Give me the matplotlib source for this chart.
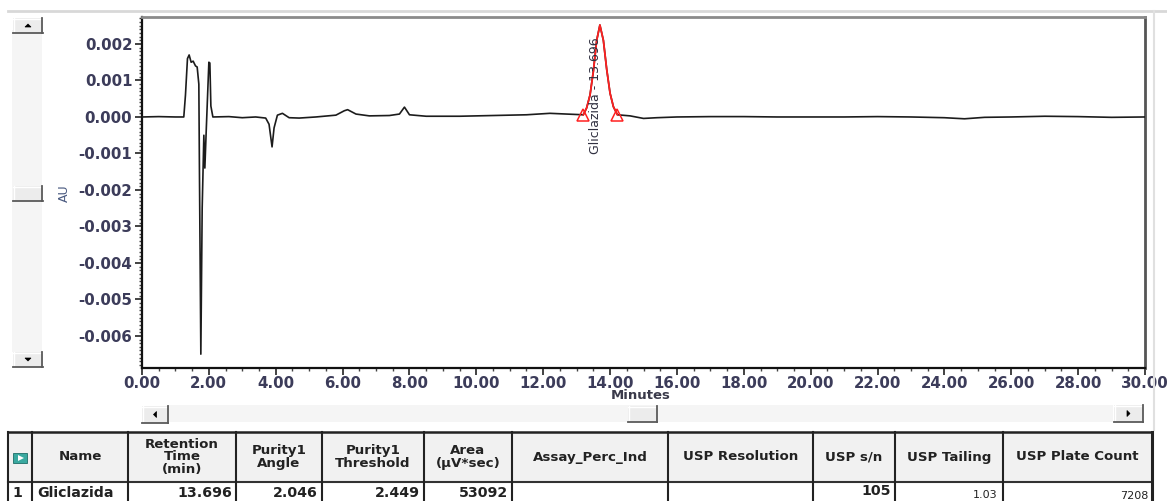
import matplotlib
matplotlib.use("Agg")
import matplotlib.pyplot as plt
from matplotlib.patches import Rectangle, Polygon
from matplotlib.lines import Line2D
from matplotlib.ticker import MultipleLocator, FuncFormatter

# ---- chromatogram trace (minutes, AU) ----
time_min = [0.00, 0.50, 1.00, 1.25, 1.30, 1.36, 1.41, 1.47, 1.53, 1.60, 1.65, 1.70,
            1.72, 1.76, 1.80, 1.85, 1.88, 1.92, 2.00, 2.03, 2.06, 2.12, 2.60, 3.00,
            3.40, 3.70, 3.80, 3.89, 3.95, 4.05, 4.20, 4.40, 4.70, 5.20, 5.80, 6.05,
            6.15, 6.40, 6.80, 7.40, 7.70, 7.85, 8.00, 8.50, 9.50, 10.50, 11.50, 12.20,
            12.70, 13.20, 13.30, 13.40, 13.50, 13.60, 13.696, 13.80, 13.90, 14.00, 14.10,
            14.22, 14.60, 15.00, 15.40, 16.00, 17.00, 18.00, 19.00, 20.00, 21.00, 22.00,
            23.00, 24.00, 24.60, 25.20, 26.00, 27.00, 28.00, 29.00, 30.00]
absorbance_au = [0.0, 0.00001, 0.0, 0.0, 0.0006, 0.0016, 0.0017, 0.0015, 0.00153, 0.0014,
                 0.00137, 0.0009, -0.0017, -0.0065, -0.0025, -0.0005, -0.0014, -0.0004,
                 0.0015, 0.00148, 0.0003, 0.0, 0.00001, -0.00002, 0.0, -0.00003, -0.0002,
                 -0.00082, -0.0003, 0.00005, 0.0001, -0.00002, -0.00003, 0.0, 0.00005, 0.00017,
                 0.0002, 0.00008, 0.00003, 0.00004, 0.00008, 0.00027, 0.00006, 0.00002, 0.00002,
                 0.00004, 0.00006, 0.0001, 0.00008, 0.00006, 0.00025, 0.0006, 0.00125, 0.0021,
                 0.00252, 0.0021, 0.0013, 0.00065, 0.00028, 0.00006, 0.00003, -0.00004, -0.00002,
                 0.0, 0.00001, 0.00001, 0.0, 0.0, 0.0, 0.00001, 0.0, -0.00002, -0.00005,
                 -0.00001, 0.0, 0.00002, 0.00001, -0.00001, 0.0]

peak_name = "Gliclazida"
retention_time = 13.696
peak_start = 13.20
peak_end = 14.22

x_ticks = [0, 2, 4, 6, 8, 10, 12, 14, 16, 18, 20, 22, 24, 26, 28, 30]
y_ticks = [0.002, 0.001, 0.0, -0.001, -0.002, -0.003, -0.004, -0.005, -0.006]

# ---- results table ----
col_headers = ["", "Name", "Retention\nTime\n(min)", "Purity1\nAngle", "Purity1\nThreshold",
               "Area\n(µV*sec)", "Assay_Perc_Ind", "USP Resolution", "USP s/n",
               "USP Tailing", "USP Plate Count"]
row_values = ["1", "Gliclazida", "13.696", "2.046", "2.449", "53092", "", "", "105",
              "1.03", "7208"]

W, H = 1167, 501
fig = plt.figure(figsize=(W / 100, H / 100), dpi=100)
fig.patch.set_facecolor("white")


def fx(x):
    return x / W


def fy(y):
    return 1 - y / H


def rect(x0, y0, x1, y1, **kw):
    fig.add_artist(Rectangle((fx(x0), fy(y1)), fx(x1) - fx(x0), fy(y0) - fy(y1),
                             transform=fig.transFigure, **kw))


def hline(x0, x1, y, **kw):
    fig.add_artist(Line2D([fx(x0), fx(x1)], [fy(y), fy(y)], transform=fig.transFigure, **kw))


def vline(x, y0, y1, **kw):
    fig.add_artist(Line2D([fx(x), fx(x)], [fy(y0), fy(y1)], transform=fig.transFigure, **kw))


def button(x0, y0, x1, y1, arrow=None):
    rect(x0, y0, x1, y1, facecolor="#ececec", edgecolor="none")
    hline(x0, x1, y0 + 0.5, color="white", lw=1)
    vline(x0 + 0.5, y0, y1, color="white", lw=1)
    hline(x0, x1, y1 - 0.5, color="#5a5a5a", lw=1.3)
    vline(x1 - 0.5, y0, y1, color="#5a5a5a", lw=1.3)
    if arrow:
        cx, cy = (x0 + x1) / 2, (y0 + y1) / 2
        s = 3
        if arrow == "up":
            pts = [(cx - s, cy + 1.5), (cx + s, cy + 1.5), (cx, cy - 1.5)]
        elif arrow == "down":
            pts = [(cx - s, cy - 1.5), (cx + s, cy - 1.5), (cx, cy + 1.5)]
        elif arrow == "left":
            pts = [(cx + 1.5, cy - s), (cx + 1.5, cy + s), (cx - 1.5, cy)]
        else:
            pts = [(cx - 1.5, cy - s), (cx - 1.5, cy + s), (cx + 1.5, cy)]
        fig.add_artist(Polygon([(fx(a), fy(b)) for a, b in pts], closed=True,
                               transform=fig.transFigure, facecolor="black",
                               edgecolor="black", lw=0.5))


# window frame
hline(8, W, 11, color="#d8d8d8", lw=2)
vline(1154, 11, 430, color="#e0e0e0", lw=1.5)

# vertical scroll bar
rect(12, 30, 42, 352, facecolor="#f5f5f5", edgecolor="none")
button(13, 18, 43, 33, "up")
button(13, 186, 43, 201)
button(13, 352, 43, 367, "down")

# horizontal scroll bar
rect(168, 405, 1113, 422, facecolor="#f5f5f5", edgecolor="none")
button(142, 406, 168, 423, "left")
button(628, 406, 657, 422)
button(1114, 405, 1143, 422, "right")

# ---- chromatogram axes ----
ax = fig.add_axes([fx(142), fy(368), fx(1145) - fx(142), fy(17) - fy(368)])
ax.set_xlim(0, 30)
ax.set_ylim(-0.00688, 0.00274)
ax.plot(time_min, absorbance_au, color="#1c1c1c", lw=1.2, zorder=3)

# integrated peak outline with start/end markers
seg_t = [t for t in time_min if peak_start <= t <= peak_end]
seg_a = [a for t, a in zip(time_min, absorbance_au) if peak_start <= t <= peak_end]
ax.plot(seg_t, seg_a, color="#ff2020", lw=1.3, zorder=4)
ax.plot([peak_start, peak_end], [seg_a[0], seg_a[-1]], linestyle="none", marker="^",
        markersize=8, markerfacecolor="none", markeredgecolor="#ff2020", mew=1.1, zorder=5)
ax.text(retention_time - 0.12, 0.00058, f"{peak_name} - {retention_time:.3f}", rotation=90,
        ha="center", va="center", fontsize=9, color="#303040", zorder=6)

tick_color = "#3c3c5a"
ax.set_xticks(x_ticks)
ax.set_yticks(y_ticks)
ax.xaxis.set_major_formatter(FuncFormatter(lambda v, p: f"{v:.2f}"))
ax.yaxis.set_major_formatter(
    FuncFormatter(lambda v, p: "0.000" if abs(v) < 1e-9 else f"{v:.3f}".replace("\u2212", "-")))
ax.xaxis.set_minor_locator(MultipleLocator(0.5))
ax.yaxis.set_minor_locator(MultipleLocator(0.0001))
ax.tick_params(axis="both", which="major", length=5, width=1.2, color="#222222",
               labelcolor=tick_color, labelsize=10.8)
ax.tick_params(axis="both", which="minor", length=2.5, width=1, color="#444444")
ax.tick_params(axis="y", pad=2)
ax.tick_params(axis="x", pad=1)
for lab in ax.get_xticklabels() + ax.get_yticklabels():
    lab.set_fontweight("bold")
ax.set_xlabel("Minutes", fontsize=9.5, fontweight="bold", color="#3a3a4a", labelpad=0)
ax.xaxis.set_label_coords(0.497, -0.06)

ax.spines["left"].set_color("#111111")
ax.spines["left"].set_linewidth(1.6)
ax.spines["bottom"].set_color("#111111")
ax.spines["bottom"].set_linewidth(1.6)
ax.spines["top"].set_color("#8a8a8a")
ax.spines["top"].set_linewidth(2.0)
ax.spines["right"].set_color("#555555")
ax.spines["right"].set_linewidth(2.0)

fig.text(fx(64), fy(193), "AU", rotation=90, ha="center", va="center",
         fontsize=9, color="#4a5a80")

# ---- results table ----
col_edges = [8, 32, 128, 236, 322, 424, 512, 668, 813, 895, 1003, 1152]
top, mid, bot = 432, 482, 503
rect(8, top, 1152, mid, facecolor="#f1f1f1", edgecolor="none")
rect(8, mid, 1152, bot, facecolor="white", edgecolor="none")
hline(8, 1152, top, color="#222222", lw=1.8)
hline(8, 1152, mid, color="#333333", lw=1.5)
for i, x in enumerate(col_edges):
    lw = 2.2 if i == len(col_edges) - 1 else 1.5
    vline(x, top, bot, color="#222222", lw=lw)

# row-selector icon in the corner cell
rect(13, 453, 27, 463, facecolor="#3aa9a0", edgecolor="#1d6e68", lw=0.6)
fig.add_artist(Polygon([(fx(18), fy(455)), (fx(18), fy(461)), (fx(24), fy(458))], closed=True,
                       transform=fig.transFigure, facecolor="white", edgecolor="none"))

for i, head in enumerate(col_headers):
    if not head:
        continue
    cx = (col_edges[i] + col_edges[i + 1]) / 2
    fig.text(fx(cx), fy(457), head, ha="center", va="center", fontsize=9.6,
             fontweight="bold", color="#222222", linespacing=1.0)

txt_kw = dict(fontsize=10.2, fontweight="bold", color="#222222", va="center")
fig.text(fx(17), fy(493), row_values[0], ha="center", **txt_kw)
fig.text(fx(37), fy(493), row_values[1], ha="left", **txt_kw)
for i in range(2, 9):
    if row_values[i]:
        yy = 491 if i == 8 else 493
        fig.text(fx(col_edges[i + 1] - 4), fy(yy), row_values[i], ha="right", **txt_kw)
small_kw = dict(fontsize=8, color="#222222", va="center")
fig.text(fx(col_edges[10] - 6), fy(495), row_values[9], ha="right", **small_kw)
fig.text(fx(col_edges[11] - 4), fy(496), row_values[10], ha="right", **small_kw)

fig.savefig("out.png", dpi=100)
